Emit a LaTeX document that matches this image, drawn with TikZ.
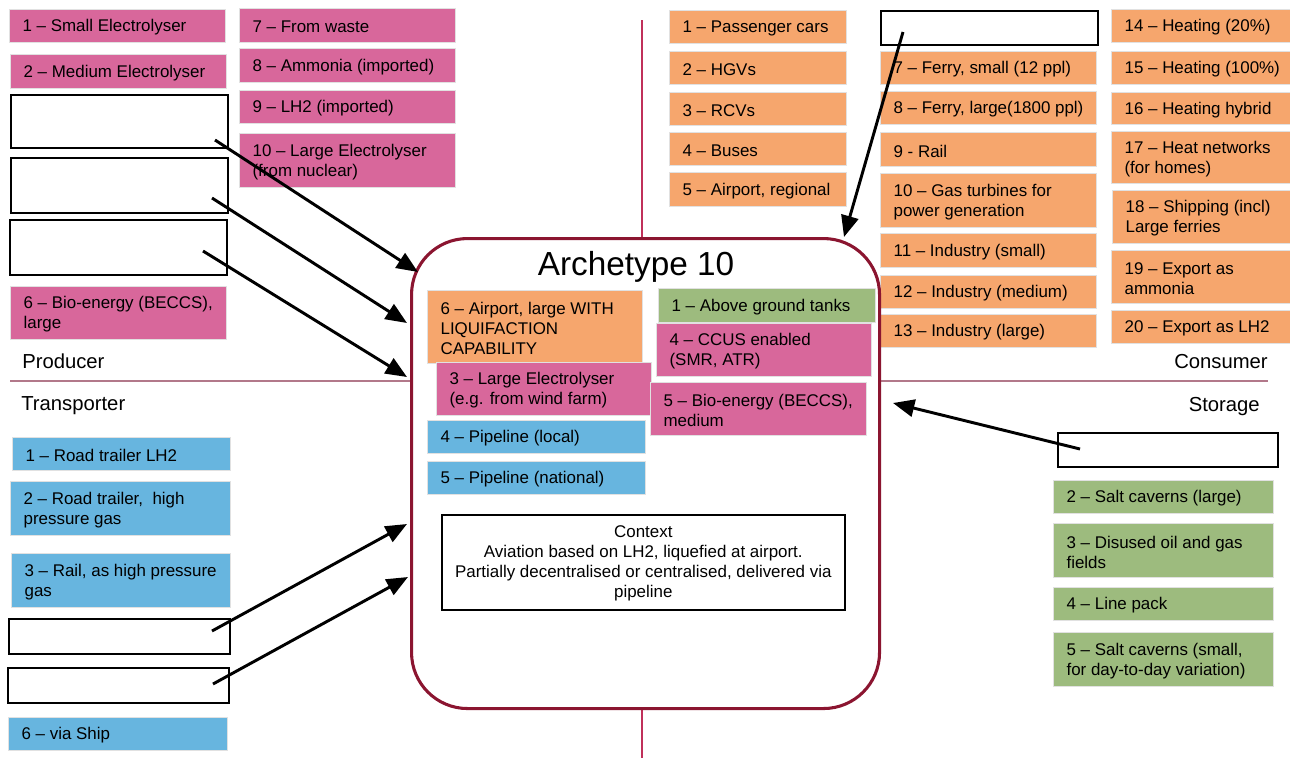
\documentclass[tikz,border=0pt]{standalone}
\usepackage{fontspec}
\setmainfont{Liberation Sans}
\usetikzlibrary{arrows.meta}

\definecolor{prodpink}{RGB}{216,103,155}
\definecolor{consorange}{RGB}{246,166,109}
\definecolor{transblue}{RGB}{103,181,223}
\definecolor{storegreen}{RGB}{157,187,126}
\definecolor{archred}{RGB}{139,21,48}
\definecolor{vrule}{RGB}{192,48,90}
\definecolor{hrule}{RGB}{178,120,138}
\definecolor{tileedge}{RGB}{225,225,225}

% coloured tile: name, x, y, width, height, fill, text (sizes in px units)
\newcommand\tile[7]{%
  \node[tilebox,fill=#6,minimum width={#4*0.75pt},minimum height={#5*0.75pt}] (#1) at (#2,#3) {};
  \node[tiletext] (#1t) at ([xshift=10pt,yshift=-1.2pt]#1.west) {#7};}
% empty outlined slot: name, x, y, width, height
\newcommand\slot[5]{%
  \node[slotbox,minimum width={#4*0.75pt},minimum height={#5*0.75pt}] (#1) at (#2,#3) {};}

\tikzset{
  tilebox/.style={anchor=north west,inner sep=0pt,draw=tileedge,line width=0.75pt},
  tiletext/.style={anchor=west,inner sep=0pt,align=left,
    font=\fontsize{12.7}{15}\selectfont},
  slotbox/.style={anchor=north west,inner sep=0pt,draw=black,fill=white,line width=1.5pt},
  section/.style={inner sep=0pt,font=\fontsize{15.2}{18}\selectfont},
  feed/.style={line width=2.2pt,-{Triangle[length=16pt,width=13pt]}},
  archbox/.style={anchor=north west,inner sep=0pt,draw=archred,fill=white,
    line width=2.3pt,rounded corners=42pt},
}

\begin{document}
\begin{tikzpicture}[x=0.75pt,y=-0.75pt]
\useasboundingbox (0,0) rectangle (1290,758);

% quadrant dividers
\draw[hrule,line width=0.9pt] (10,381) -- (1268,381);
\draw[vrule,line width=0.9pt] (642,20) -- (642,758);

% quadrant titles
\node[section,anchor=west] (producer) at (22,361) {Producer};
\node[section,anchor=west] (transporter) at (21,406) {Transporter};
\node[section,anchor=east] (consumer) at (1268,362) {Consumer};
\node[section,anchor=east] (storage) at (1260,407) {Storage};

% producers
\tile{p1}{9}{9}{216}{33}{prodpink}{1 – Small Electrolyser}
\tile{p2}{10}{54}{216}{34}{prodpink}{2 – Medium Electrolyser}
\slot{w1}{10}{94}{217}{53}
\slot{w2}{10}{157}{217}{55}
\slot{w3}{9}{219}{217}{55}
\tile{p6}{10}{286}{216}{53}{prodpink}{6 – Bio-energy (BECCS),\\large}
\tile{p7}{239}{8}{216}{34}{prodpink}{7 – From waste}
\tile{p8}{239}{48}{216}{34}{prodpink}{8 – Ammonia (imported)}
\tile{p9}{239}{90}{216}{33}{prodpink}{9 – LH2 (imported)}
\tile{p10}{239}{133}{216}{54}{prodpink}{10 – Large Electrolyser\\(from nuclear)}

% consumers
\tile{c1}{669}{10}{177}{33}{consorange}{1 – Passenger cars}
\tile{c2}{669}{51}{177}{33}{consorange}{2 – HGVs}
\tile{c3}{669}{92}{177}{33}{consorange}{3 – RCVs}
\tile{c4}{669}{132}{177}{33}{consorange}{4 – Buses}
\tile{c5}{669}{172}{177}{34}{consorange}{5 – Airport, regional}
\slot{wc}{880}{10}{217}{34}
\tile{c7}{880}{51}{216}{33}{consorange}{7 – Ferry, small (12 ppl)}
\tile{c8}{880}{91}{216}{33}{consorange}{8 – Ferry, large(1800 ppl)}
\tile{c9}{880}{132}{216}{34}{consorange}{9 - Rail}
\tile{c10}{880}{173}{216}{54}{consorange}{10 – Gas turbines for\\power generation}
\tile{c11}{880}{233}{216}{34}{consorange}{11 – Industry (small)}
\tile{c12}{880}{275}{216}{33}{consorange}{12 – Industry (medium)}
\tile{c13}{880}{314}{216}{33}{consorange}{13 – Industry (large)}
\tile{c14}{1111}{9}{200}{33}{consorange}{14 – Heating (20\%)}
\tile{c15}{1111}{51}{200}{33}{consorange}{15 – Heating (100\%)}
\tile{c16}{1111}{92}{200}{32}{consorange}{16 – Heating hybrid}
\tile{c17}{1111}{131}{200}{52}{consorange}{17 – Heat networks\\(for homes)}
\tile{c18}{1112}{190}{200}{53}{consorange}{18 – Shipping (incl)\\Large ferries}
\tile{c19}{1111}{250}{200}{53}{consorange}{19 – Export as\\ammonia}
\tile{c20}{1111}{310}{200}{33}{consorange}{20 – Export as LH2}

% transporters
\tile{t1}{12}{437}{218}{33}{transblue}{1 – Road trailer LH2}
\tile{t2}{10}{481}{220}{54}{transblue}{2 – Road trailer,\ \ high\\pressure gas}
\tile{t3}{11}{553}{219}{54}{transblue}{3 – Rail, as high pressure\\gas}
\slot{w4}{8}{618}{221}{35}
\slot{w5}{7}{667}{221}{35}
\tile{t6}{8}{717}{219}{33}{transblue}{6 – via Ship}

% storage
\slot{ws}{1057}{432}{220}{34}
\tile{s2}{1053}{480}{220}{33}{storegreen}{2 – Salt caverns (large)}
\tile{s3}{1053}{523}{220}{54}{storegreen}{3 – Disused oil and gas\\fields}
\tile{s4}{1053}{587}{220}{33}{storegreen}{4 – Line pack}
\tile{s5}{1053}{632}{220}{54}{storegreen}{5 – Salt caverns (small,\\for day-to-day variation)}

% archetype panel
\node[archbox,minimum width={468*0.75pt},minimum height={470*0.75pt}] (arch) at (410,237) {};
\node[inner sep=0pt,font=\fontsize{25}{30}\selectfont] (title) at (636,267) {Archetype 10};
\tile{a6}{427}{290}{215}{73}{consorange}{6 – Airport, large WITH\\LIQUIFACTION\\CAPABILITY}
\tile{a1}{658}{288}{217}{34}{storegreen}{1 – Above ground tanks}
\tile{a4}{656}{323}{215}{53}{prodpink}{4 – CCUS enabled\\(SMR, ATR)}
\tile{a3}{436}{362}{215}{53}{prodpink}{3 – Large Electrolyser\\(e.g. from wind farm)}
\tile{a5}{650}{382}{216}{53}{prodpink}{5 – Bio-energy (BECCS),\\medium}
\tile{b4}{427}{420}{218}{33}{transblue}{4 – Pipeline (local)}
\tile{b5}{427}{461}{218}{33}{transblue}{5 – Pipeline (national)}
\node[anchor=north west,draw=black,line width=1.2pt,fill=white,inner sep=0pt,
  minimum width={403*0.75pt},minimum height={95*0.75pt}] (ctx) at (441,514) {};
\node[inner sep=0pt,align=center,font=\fontsize{12.7}{15}\selectfont] (ctxt) at ([yshift=-1pt]ctx.center)
  {Context\\Aviation based on LH2, liquefied at airport.\\Partially decentralised or centralised, delivered via\\pipeline};

% arrows from the empty slots into the panel
\coordinate (w1o) at (215,140);  \coordinate (e1) at (418,272);
\coordinate (w2o) at (212,198);  \coordinate (e2) at (407,323);
\coordinate (w3o) at (203,251);  \coordinate (e3) at (407,377);
\coordinate (w4o) at (212,631);  \coordinate (e4) at (407,524);
\coordinate (w5o) at (213,684);  \coordinate (e5) at (408,577);
\coordinate (wso) at (1080,449); \coordinate (e6) at (893,403);
\coordinate (wco) at (903,32);   \coordinate (e7) at (844,237);
\draw[feed] (w1o) -- (e1);
\draw[feed] (w2o) -- (e2);
\draw[feed] (w3o) -- (e3);
\draw[feed] (w4o) -- (e4);
\draw[feed] (w5o) -- (e5);
\draw[feed] (wso) -- (e6);
\draw[feed] (wco) -- (e7);
\end{tikzpicture}
\end{document}
